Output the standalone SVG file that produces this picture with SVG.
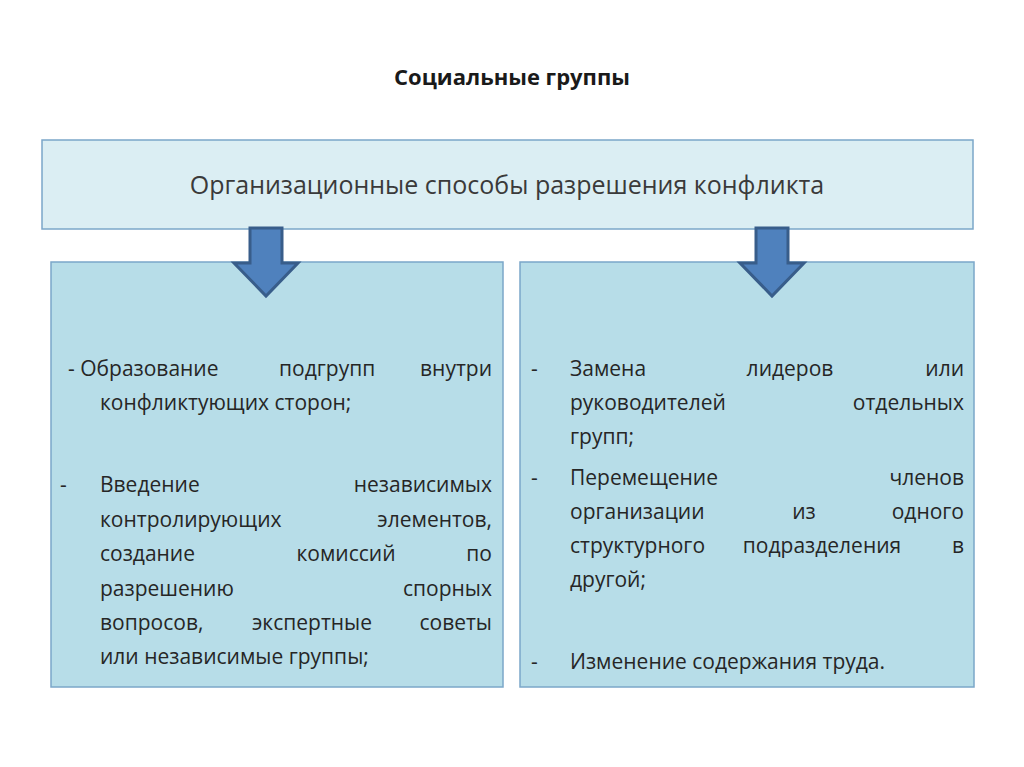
<svg xmlns="http://www.w3.org/2000/svg" width="1024" height="767" viewBox="0 0 1024 767">
<style>
text{font-family:"Open Sans","Liberation Sans",sans-serif;fill:#262626;font-size:21px}
.t{font-weight:bold;font-size:22px;fill:#1a1a1a}
.h{font-size:25px;fill:#3a3a3a}
.m{text-anchor:middle}.e{text-anchor:end}
.box{fill:#b7dde8;stroke:#7ba7c9;stroke-width:1.5}
.arr{fill:#4f81bd;stroke:#385d8a;stroke-width:3;stroke-linejoin:miter}
</style>
<rect width="1024" height="767" fill="#fff"/>
<text class="t m" x="512" y="85">Социальные группы</text>
<g id="top"><rect x="42" y="140" width="931" height="89" fill="#dbeef3" stroke="#7ba7c9" stroke-width="1.5"/>
<text class="h m" x="507" y="194">Организационные способы разрешения конфликта</text></g>
<g id="left"><rect class="box" x="51" y="262" width="452" height="425"/>
<text x="68" y="376">- Образование</text><text x="279" y="376">подгрупп</text><text class="e" x="492" y="376">внутри</text>
<text x="100" y="410">конфликтующих сторон;</text>
<text x="60" y="492">-</text><text x="100" y="492">Введение</text><text class="e" x="492" y="492">независимых</text>
<text x="100" y="527">контролирующих</text><text class="e" x="492" y="527">элементов,</text>
<text x="100" y="561">создание</text><text class="m" x="346" y="561">комиссий</text><text class="e" x="492" y="561">по</text>
<text x="100" y="596">разрешению</text><text class="e" x="492" y="596">спорных</text>
<text x="100" y="630">вопросов,</text><text class="m" x="312" y="630">экспертные</text><text class="e" x="492" y="630">советы</text>
<text x="100" y="664">или независимые группы;</text></g>
<g id="right"><rect class="box" x="520" y="262" width="454" height="425"/>
<text x="531" y="376">-</text><text x="570" y="376">Замена</text><text class="m" x="790" y="376">лидеров</text><text class="e" x="964" y="376">или</text>
<text x="570" y="410">руководителей</text><text class="e" x="964" y="410">отдельных</text>
<text x="570" y="444">групп;</text>
<text x="531" y="485">-</text><text x="570" y="485">Перемещение</text><text class="e" x="964" y="485">членов</text>
<text x="570" y="519">организации</text><text class="m" x="804" y="519">из</text><text class="e" x="964" y="519">одного</text>
<text x="570" y="553">структурного</text><text class="m" x="822" y="553">подразделения</text><text class="e" x="964" y="553">в</text>
<text x="570" y="587">другой;</text>
<text x="531" y="669">-</text><text x="570" y="669">Изменение содержания труда.</text></g>
<g id="connectors">
<path class="arr" d="M250 228H282V263H298L266 296L234 263H250Z"/>
<path class="arr" d="M756 228H788V263H804L772 296L740 263H756Z"/>
</g>
</svg>
